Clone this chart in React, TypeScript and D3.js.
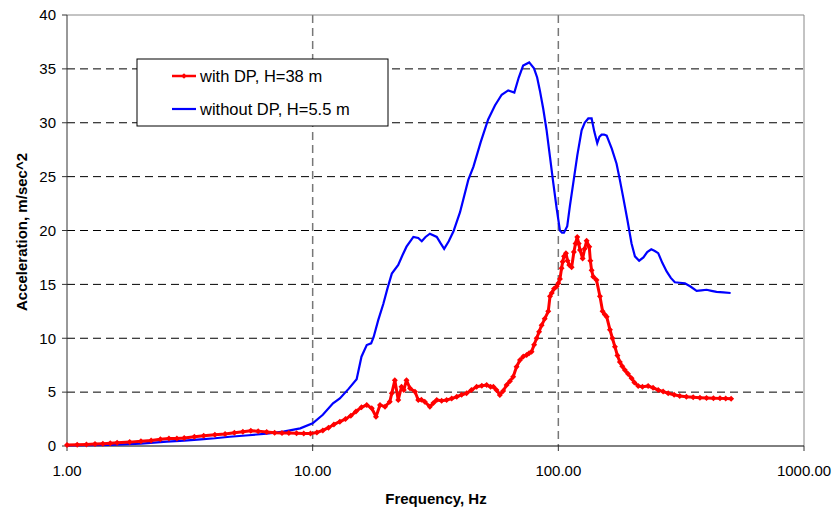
import React from "react";
import * as d3 from "d3";

// with DP, H=38 m (red, markers)
const withDpFreq = [
  1.0, 1.1, 1.2, 1.3, 1.4, 1.5, 1.6, 1.8, 2.0, 2.2, 2.4, 2.6, 2.8, 3.0, 3.3, 3.6, 4.0, 4.4, 4.8, 5.2,
  5.6, 6.0, 6.5, 7.0, 7.5, 8.0, 8.6, 9.2, 9.8, 10.4, 11.0, 11.6, 12.2, 12.9, 13.6, 14.3, 15.0, 15.8,
  16.6, 17.4, 18.1, 18.8, 19.7, 20.6, 21.0, 21.6, 22.3, 23.0, 23.5, 24.1, 24.9, 26.1, 26.9, 27.7,
  28.6, 30.0, 31.0, 32.0, 33.5, 35.1, 36.8, 38.6, 40.4, 42.3, 44.3, 46.5, 48.8, 51.1, 53.0, 54.4,
  56.0, 57.8, 59.6, 61.6, 63.5, 65.5, 67.6, 69.8, 72.0, 74.3, 76.0, 77.8, 79.7, 81.6, 83.5, 85.5,
  88.0, 91.0, 92.5, 94.0, 96.0, 98.4, 100.0, 101.5, 103.1, 104.1, 105.5, 107.4, 109.0, 110.8, 113.3,
  115.7, 117.5, 119.4, 121.0, 122.5, 125.6, 128.0, 130.4, 133.6, 135.0, 136.6, 138.7, 143.0, 147.7,
  151.4, 154.5, 157.3, 162.2, 166.0, 170.0, 174.0, 178.0, 182.0, 186.6, 192.0, 198.6, 204.0, 211.4,
  220.0, 232.0, 243.0, 255.0, 267.0, 280.0, 296.0, 312.0, 332.0, 354.0, 377.0, 401.0, 428.0, 455.0,
  480.0, 505.0,
];
const withDpAcc = [
  0.1, 0.12, 0.15, 0.18, 0.22, 0.26, 0.3, 0.36, 0.45, 0.52, 0.62, 0.7, 0.7, 0.75, 0.85, 0.95, 1.05,
  1.12, 1.22, 1.32, 1.42, 1.38, 1.3, 1.22, 1.2, 1.2, 1.18, 1.15, 1.15, 1.25, 1.45, 1.7, 2.0, 2.26, 2.5,
  2.8, 3.2, 3.6, 3.8, 3.5, 2.72, 3.8, 3.65, 4.1, 4.9, 6.1, 4.27, 5.5, 5.2, 6.1, 5.35, 5.04, 4.27, 4.3,
  4.1, 3.65, 4.0, 4.27, 4.2, 4.27, 4.4, 4.57, 4.75, 4.9, 5.2, 5.5, 5.6, 5.66, 5.5, 5.5, 5.2, 4.73, 5.1,
  5.66, 6.0, 6.43, 7.36, 7.98, 8.3, 8.45, 8.6, 8.75, 9.4, 10.0, 10.6, 11.2, 11.8, 12.5, 13.9, 14.2,
  14.6, 14.8, 15.1, 15.5, 16.5, 17.1, 17.6, 17.9, 17.2, 16.8, 16.6, 18.0, 18.8, 19.4, 18.8, 18.2, 17.4,
  18.3, 19.05, 18.5, 17.2, 16.3, 15.7, 15.4, 13.9, 12.5, 12.2, 12.0, 10.8, 10.0, 9.2, 8.4, 7.8, 7.4,
  7.05, 6.7, 6.28, 5.9, 5.57, 5.5, 5.57, 5.4, 5.2, 5.05, 4.9, 4.75, 4.64, 4.57, 4.52, 4.48, 4.45, 4.43,
  4.42, 4.4, 4.38,
];

// without DP, H=5.5 m (blue)
const withoutDpFreq = [
  1.0, 1.5, 2.0, 2.55, 3.0, 3.5, 4.0, 4.6, 5.5, 6.5, 7.6, 8.9, 10.0, 11.0, 12.1, 12.9, 14.0, 15.1,
  15.8, 16.6, 17.3, 17.7, 18.5, 19.4, 20.2, 21.0, 22.3, 23.2, 24.1, 25.7, 26.9, 27.8, 28.8, 30.0,
  32.0, 33.2, 34.3, 35.8, 37.4, 39.8, 43.0, 45.1, 48.3, 51.8, 55.2, 58.8, 62.5, 66.2, 69.0, 71.9,
  76.1, 79.6, 82.0, 84.1, 86.8, 89.6, 92.5, 95.4, 98.5, 101.5, 103.5, 105.4, 108.7, 111.5, 115.0,
  119.5, 124.4, 128.0, 132.4, 136.6, 140.0, 144.0, 147.0, 150.0, 153.5, 157.3, 165.0, 172.6, 178.0,
  183.6, 191.0, 198.6, 205.0, 213.3, 222.0, 230.0, 239.0, 247.0, 255.0, 265.0, 276.0, 287.0, 298.0,
  312.0, 327.5, 345.0, 365.6, 382.0, 401.5, 420.0, 440.6, 470.0, 502.7,
];
const withoutDpAcc = [
  0.05, 0.1, 0.22, 0.4, 0.5, 0.62, 0.72, 0.86, 1.0, 1.15, 1.33, 1.64, 2.1, 2.9, 3.96, 4.42, 5.3, 6.19,
  8.29, 9.37, 9.53, 10.1, 11.7, 13.2, 14.7, 16.0, 16.8, 17.7, 18.5, 19.4, 19.3, 19.0, 19.4, 19.7,
  19.4, 18.8, 18.3, 19.0, 19.9, 21.7, 24.7, 25.9, 28.2, 30.3, 31.6, 32.6, 33.0, 32.8, 34.2, 35.3,
  35.6, 35.05, 34.2, 33.0, 31.3, 29.3, 26.8, 24.4, 22.0, 20.0, 19.8, 19.8, 20.4, 22.3, 24.4, 27.0,
  29.3, 30.0, 30.4, 30.4, 29.2, 28.1, 28.7, 28.9, 28.9, 28.8, 27.6, 26.2, 24.7, 23.1, 21.0, 18.8,
  17.6, 17.2, 17.5, 18.0, 18.25, 18.1, 17.9, 17.0, 16.2, 15.6, 15.2, 15.15, 15.1, 14.8, 14.4, 14.45,
  14.5, 14.4, 14.3, 14.25, 14.2,
];

const xTicks = [1, 10, 100, 1000];
const xTickLabels = ["1.00", "10.00", "100.00", "1000.00"];
const yTicks = [0, 5, 10, 15, 20, 25, 30, 35, 40];
const seriesNames = ["with DP, H=38 m", "without DP, H=5.5 m"];

const font = "'Liberation Sans', Arial, sans-serif";

const left = 67;
const right = 804;
const top = 15;
const bottom = 446;

function diamond(x: number, y: number, r: number) {
  return `M${x},${y - r}L${x + r},${y}L${x},${y + r}L${x - r},${y}Z`;
}

export default function App() {
  const x = d3.scaleLog().domain([1, 1000]).range([left, right]);
  const y = d3.scaleLinear().domain([0, 40]).range([bottom, top]);

  const red = withDpFreq.map((f, i) => [x(f), y(withDpAcc[i])] as [number, number]);
  const blue = withoutDpFreq.map((f, i) => [x(f), y(withoutDpAcc[i])] as [number, number]);
  const line = d3.line();

  return (
    <svg
      width={836}
      height={509}
      style={{ position: "absolute", left: 0, top: 0, background: "#fff", fontFamily: font }}
    >
      {/* horizontal grid */}
      {yTicks.slice(1, -1).map((v) => (
        <line key={"h" + v} x1={left} x2={right} y1={y(v)} y2={y(v)} stroke="#000" strokeWidth={1} strokeDasharray="8,5" />
      ))}
      {/* vertical grid */}
      {xTicks.slice(1, -1).map((v) => (
        <line key={"v" + v} x1={x(v)} x2={x(v)} y1={top} y2={bottom} stroke="#777" strokeWidth={1.5} strokeDasharray="8,5" />
      ))}
      {/* frame */}
      <line x1={left} x2={right} y1={top} y2={top} stroke="#888" />
      <line x1={right} x2={right} y1={top} y2={bottom} stroke="#888" />
      <line x1={left} x2={left} y1={top} y2={bottom} stroke="#333" />
      <line x1={left} x2={right} y1={bottom} y2={bottom} stroke="#000" />

      {yTicks.map((v) => (
        <g key={"yt" + v} transform={`translate(0,${y(v)})`}>
          <line x1={left - 5} x2={left} stroke="#333" />
          <text x={56} dy="0.35em" textAnchor="end" fontSize={15} fill="#000">
            {v}
          </text>
        </g>
      ))}
      {xTicks.map((v, i) => (
        <g key={"xt" + v} transform={`translate(${x(v)},${bottom})`}>
          <line y1={0} y2={5} stroke="#333" />
          <text y={30} textAnchor="middle" fontSize={15} fill="#000">
            {xTickLabels[i]}
          </text>
        </g>
      ))}

      <text x={436} y={504} textAnchor="middle" fontSize={15} fontWeight="bold">
        Frequency, Hz
      </text>
      <text
        transform={`translate(27,232) rotate(-90)`}
        textAnchor="middle"
        fontSize={15}
        fontWeight="bold"
      >
        Acceleration, m/sec^2
      </text>

      {/* series */}
      <path d={line(blue) || ""} fill="none" stroke="#0000ff" strokeWidth={2.2} />
      <path d={line(red) || ""} fill="none" stroke="#ff0000" strokeWidth={3} strokeLinejoin="round" />
      {red.map(([px, py], i) => (
        <path key={"m" + i} d={diamond(px, py, 3)} fill="#ff0000" />
      ))}

      {/* legend */}
      <rect x={137} y={59} width={251} height={67} fill="#fff" stroke="#000" />
      <line x1={172} x2={196} y1={76} y2={76} stroke="#ff0000" strokeWidth={2.5} />
      <path d={diamond(184, 76, 2.8)} fill="#ff0000" />
      <text x={200} y={76} dy="0.35em" fontSize={16.5}>
        {seriesNames[0]}
      </text>
      <line x1={172} x2={196} y1={109} y2={109} stroke="#0000ff" strokeWidth={2.2} />
      <text x={200} y={109} dy="0.35em" fontSize={16.5}>
        {seriesNames[1]}
      </text>
    </svg>
  );
}
